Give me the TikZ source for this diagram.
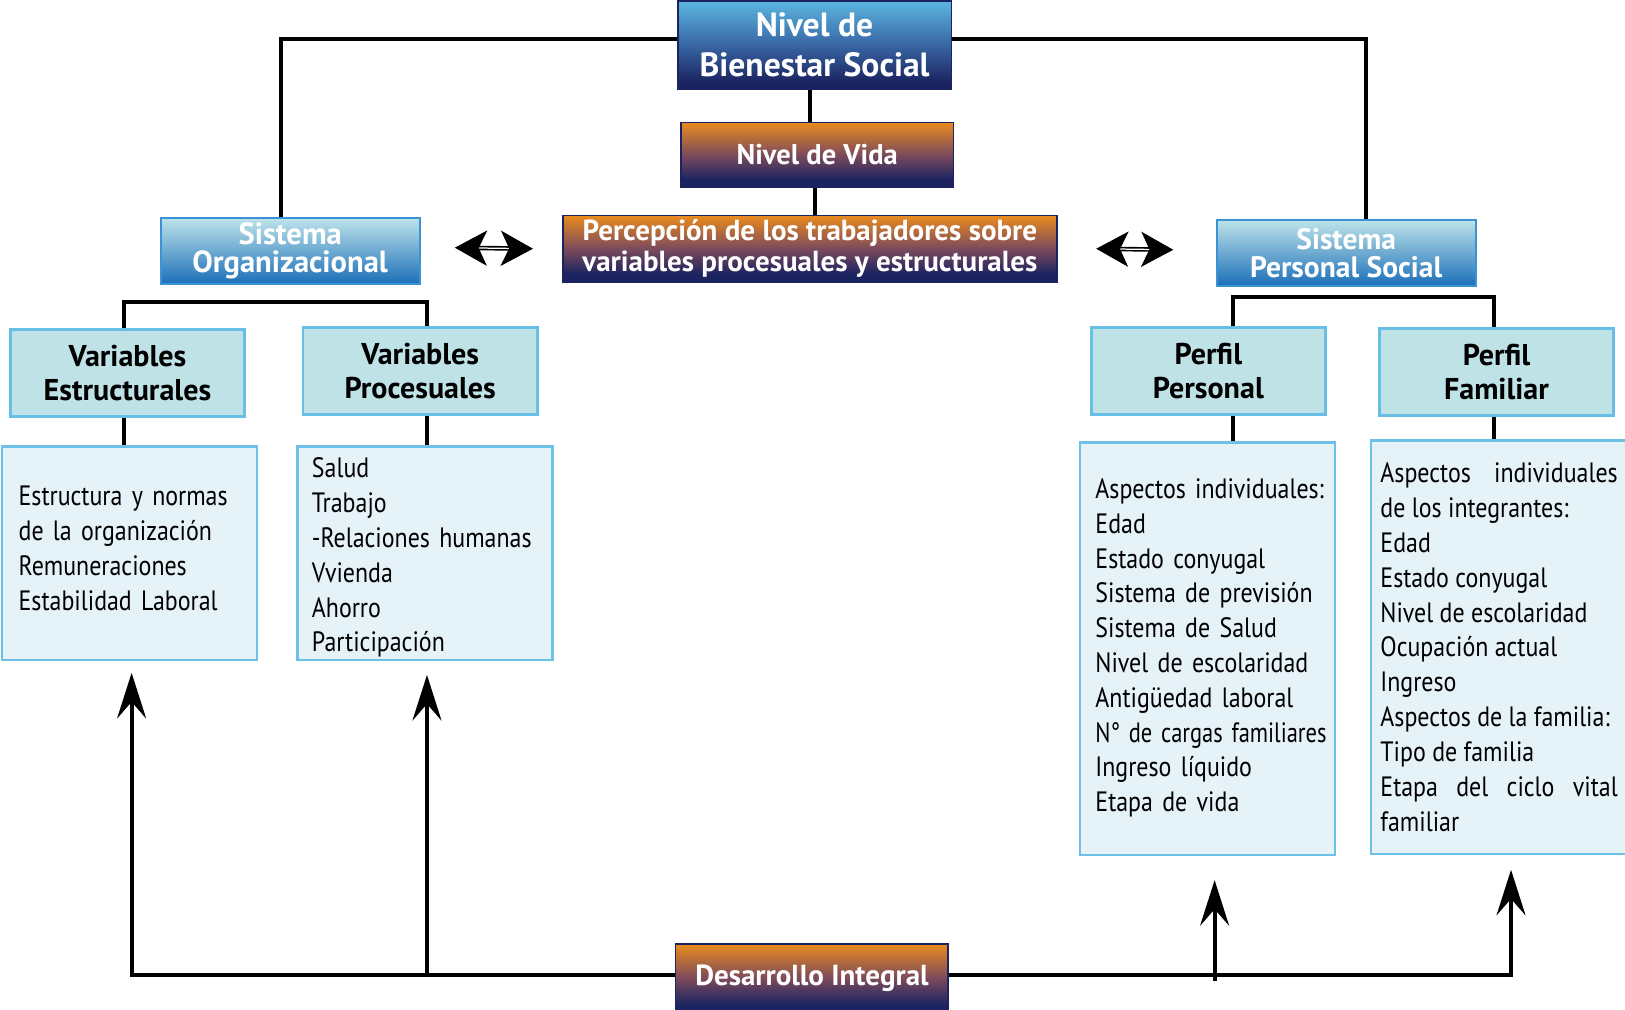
\documentclass[tikz,border=0pt]{standalone}
\usepackage{graphicx}
\usepackage{fontspec}
\setmainfont{PT Sans}
% condensed cut of the same family for the long lists
\newfontfamily\listfont{PT Sans}[FakeStretch=0.855]
\usetikzlibrary{arrows.meta}
\hyphenpenalty=10000
\exhyphenpenalty=10000

\definecolor{navy}{HTML}{1B2461}
\definecolor{bluetop}{HTML}{5CB6E0}
\definecolor{bluemid}{HTML}{3A6CA9}
\definecolor{orng}{HTML}{E98B1E}
\definecolor{plum}{HTML}{7C4A5C}
\definecolor{systop}{HTML}{BFE4EA}
\definecolor{sysbot}{HTML}{1B6FB8}
\definecolor{sysborder}{HTML}{3B93D6}
\definecolor{headfill}{HTML}{BEE2E6}
\definecolor{headborder}{HTML}{68BFE6}
\definecolor{listfill}{HTML}{E5F2F8}
\definecolor{listborder}{HTML}{6DC1E7}

% vertical shadings (0bp = bottom); the node fills the band 25bp..75bp
\pgfdeclareverticalshading{bluenavy}{100bp}{color(0bp)=(navy); color(25bp)=(navy); color(29bp)=(navy); color(52bp)=(bluemid); color(75bp)=(bluetop); color(100bp)=(bluetop)}
\pgfdeclareverticalshading{orangenavy}{100bp}{color(0bp)=(navy); color(25bp)=(navy); color(31bp)=(navy); color(50bp)=(plum); color(75bp)=(orng); color(100bp)=(orng)}

% invisible struts used to balance the list texts inside their boxes
\newcommand{\deepstrut}[1]{\rule[-#1]{0pt}{#1}}
\newcommand{\tallstrut}[1]{\rule{0pt}{#1}}

\begin{document}
\begin{tikzpicture}[x=1pt,y=-1pt,
  darkbox/.style={draw=navy, line width=1.5pt, inner sep=0pt, text=white, align=center,
    font=\bfseries\fontsize{28}{30}\selectfont},
  bluebox/.style={darkbox, shading=bluenavy},
  orangebox/.style={darkbox, shading=orangenavy},
  sysbox/.style={draw=sysborder, line width=1.8pt, top color=systop, bottom color=sysbot,
    inner sep=0pt, text=white, align=center, minimum width=250, minimum height=64},
  headbox/.style={draw=headborder, fill=headfill, line width=2.5pt, inner sep=0pt,
    align=center, minimum width=226, minimum height=84,
    font=\bfseries\fontsize{29}{33}\selectfont},
  listbox/.style={draw=listborder, fill=listfill, line width=2.5pt, inner ysep=0pt,
    font=\listfont\fontsize{27}{33.6}\selectfont},
  link/.style={line width=3.8pt, draw=black},
  uparrow/.style={link, -{Stealth[length=44pt,width=28pt,inset=16pt]}},
  twoway/.style={line width=1.6pt, double=white, double distance=1.2pt,
    {Stealth[length=31pt,width=34pt,inset=8pt]}-{Stealth[length=31pt,width=34pt,inset=8pt]}}
]
\useasboundingbox (0,0) rectangle (1568,974);
\clip (0,0) rectangle (1568,974);

% central column
\node[bluebox, minimum width=264, minimum height=85, font=\bfseries\fontsize{32.4}{39}\selectfont]
  (bienestar) at (786,43.5) {Nivel de\\Bienestar Social};
\node[orangebox, minimum width=263, minimum height=63, font=\bfseries\fontsize{27.5}{30}\selectfont]
  (vida) at (788.5,149.5) {Nivel de Vida};
\node[orangebox, minimum width=477, minimum height=64] (percep) at (781.5,240)
  {Percepción de los trabajadores sobre\\variables procesuales y estructurales};
\node[orangebox, minimum width=263, minimum height=66] (desarrollo) at (783.5,944) {Desarrollo Integral};

% the two systems
\node[sysbox, font=\bfseries\fontsize{29.5}{27.5}\selectfont] (sorg) at (280,242) {Sistema\\Organizacional};
\node[sysbox, font=\bfseries\fontsize{28.5}{27}\selectfont] (spers) at (1299,244) {Sistema\\Personal Social};

% headings
\node[headbox] (vest) at (123,360) {Variables\\Estructurales};
\node[headbox] (vproc) at (405.5,358) {Variables\\Procesuales};
\node[headbox] (pper) at (1166,358) {Perfil\\Personal};
\node[headbox] (pfam) at (1444,359) {Perfil\\Familiar};

% lists
\node[listbox, inner xsep=16pt, text width=214pt, minimum height=206, align=left]
  (lest) at (125,534)
  {Estructura y normas\\de la organización\\Remuneraciones\\Estabilidad Laboral\deepstrut{10pt}};
\node[listbox, inner xsep=14pt, text width=218pt, minimum height=206, align=left]
  (lproc) at (410,534)
  {\tallstrut{27.5pt}Salud\\Trabajo\\-Relaciones humanas\\Vvienda\\Ahorro\\Participación};
\node[listbox, inner xsep=15pt, text width=216pt, minimum height=398, align=left]
  (lper) at (1165,626)
  {\mbox{Aspectos individuales:}\\Edad\\Estado conyugal\\Sistema de previsión\\Sistema de Salud\\Nivel de escolaridad\\Antigüedad laboral\\\scalebox{0.94}[1]{N° de cargas familiares}\\Ingreso líquido\\Etapa de vida\deepstrut{7pt}};
\node[listbox, inner xsep=9pt, text width=229pt, minimum height=399, align=justify]
  (lfam) at (1446.5,624.5)
  {Aspectos individuales\linebreak de los integrantes:\\Edad\\Estado conyugal\\Nivel de escolaridad\\Ocupación actual\\Ingreso\\Aspectos de la familia:\\Tipo de familia\\Etapa del ciclo vital\linebreak familiar};

% top connectors
\draw[link] ([yshift=5.5]bienestar.west) -| ([xshift=-9]sorg.north);
\draw[link] ([yshift=5.5]bienestar.east) -| ([xshift=19]spers.north);
\draw[link] ([xshift=-4]bienestar.south) -- ([xshift=-4]bienestar.south |- vida.north);
\draw[link] ([xshift=-2.5]vida.south) -- ([xshift=-2.5]vida.south |- percep.north);

% two-way arrows between the systems and the perception box
\draw[twoway] ([xshift=33,yshift=3]sorg.east) -- ([xshift=-28]percep.west);
\draw[twoway] ([xshift=37]percep.east) -- ([xshift=-41,yshift=3]spers.west);

% left tree
\draw[link] ([xshift=-3]vest.north) -- ++(0,-25) -| ([xshift=6.5]vproc.north);
\draw[link] ([xshift=-3]vest.south) -- ([xshift=-3]vest.south |- lest.north);
\draw[link] ([xshift=6.5]vproc.south) -- ([xshift=6.5]vproc.south |- lproc.north);

% right tree
\draw[link] ([xshift=24]pper.north) -- ++(0,-28) -| ([xshift=-2]pfam.north);
\draw[link] ([xshift=24]pper.south) -- ([xshift=24]pper.south |- lper.north);
\draw[link] ([xshift=-2]pfam.south) -- ([xshift=-2]pfam.south |- lfam.north);

% bottom feedback arrows
\draw[uparrow] ([yshift=3]desarrollo.west) -| ([xshift=2,yshift=-11]lest.south);
\draw[uparrow] ([xshift=2]lproc.south |- desarrollo.west) ++(0,-3) -- ([xshift=2,yshift=-13]lproc.south);
\draw[uparrow] ([yshift=3]desarrollo.east) -| ([xshift=11.5,yshift=-14]lfam.south);
\draw[uparrow] ([xshift=7]lper.south |- desarrollo.east) ++(0,3) -- ([xshift=7,yshift=-23]lper.south);
\end{tikzpicture}
\end{document}
